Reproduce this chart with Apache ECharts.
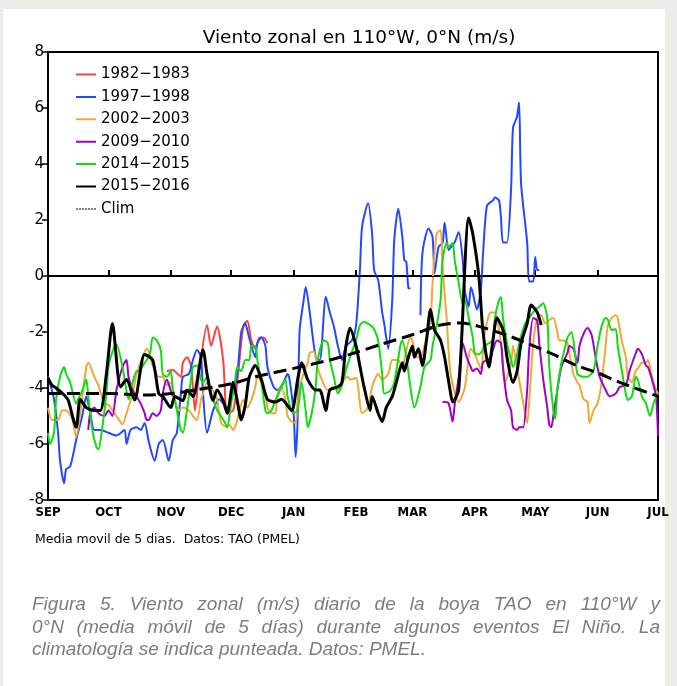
<!DOCTYPE html>
<html>
<head>
<meta charset="utf-8">
<script src="https://cdn.jsdelivr.net/npm/echarts@6/dist/echarts.min.js"></script>
<style>
  body { margin: 0; background: #ececE8; width: 677px; height: 686px; overflow: hidden; }
  #panel { position: absolute; left: 3px; top: 9px; width: 662px; height: 677px; background: #fff; }
  #chart { position: absolute; left: 0; top: 0; width: 677px; height: 686px; }
  .cap { position: absolute; left: 32px; width: 628px; font-family: "Liberation Sans", Arial, sans-serif;
         font-style: italic; font-size: 19px; color: #7d7d7d; line-height: 22.5px; white-space: nowrap; }
  .just { text-align: justify; text-align-last: justify; white-space: normal; }
</style>
</head>
<body>
<div id="panel"></div>
<div id="chart"></div>
<div class="cap just" style="top:593px">Figura 5. Viento zonal (m/s) diario de la boya TAO en 110°W y</div>
<div class="cap just" style="top:615.5px">0°N (media móvil de 5 días) durante algunos eventos El Niño. La</div>
<div class="cap" style="top:638px">climatología se indica punteada. Datos: PMEL.</div>
<script>
// eje x: dias desde el 1 de septiembre
const monthStarts = [0, 30, 61, 91, 122, 153, 181, 212, 242, 273, 303];
const monthNames = ['SEP', 'OCT', 'NOV', 'DEC', 'JAN', 'FEB', 'MAR', 'APR', 'MAY', 'JUN', 'JUL'];
const days = [];
for (let i = 0; i <= 303; i++) days.push(String(i));

// [dia, m/s]
const s1982 = [[59,-3.4],[62,-3.36],[63,-3.4],[66,-3.6],[67,-3.1],[69,-2.9],[71,-3.2],[72,-4.0],[73,-4.8],[75,-3.5],
  [79,-1.75],[81,-2.5],[83,-2.0],[84,-1.8],[87,-3.0],[89,-4.9],[92,-4.8],[94,-3.8],[97,-1.8],[99,-1.6],[101,-2.3],
  [103,-2.6],[105,-2.2],[107,-2.2],[109,-2.4]];

const s1997 = [[0,-3.6],[3,-4.4],[5,-5.6],[6,-6.6],[8,-7.4],[9,-6.9],[11,-6.8],[13,-6.2],[14,-5.86],[17,-5.0],[19,-4.3],
  [21,-4.9],[23,-5.5],[26,-5.5],[30,-5.6],[34,-5.7],[38,-5.5],[39,-6.0],[41,-5.5],[44,-5.4],[46,-5.5],[48,-5.25],
  [50,-5.9],[53,-6.6],[55,-6.0],[57,-5.86],[60,-6.6],[62,-5.86],[64,-5.6],[66,-4.2],[67,-3.6],[70,-3.5],[72,-3.0],
  [74,-2.64],[76,-2.9],[77,-4.2],[79,-5.6],[82,-4.8],[85,-4.4],[89,-4.7],[91,-4.4],[94,-3.5],[96,-2.0],[98,-1.7],
  [99,-1.93],[101,-2.5],[103,-2.9],[104,-2.4],[106,-2.2],[108,-2.5],[109,-3.25],[112,-3.96],[114,-4.07],[117,-3.8],
  [119,-3.5],[120,-3.7],[122,-4.9],[123,-6.46],[124,-5.14],[125,-1.93],[127,-0.86],[128,-0.39],[130,-1.3],[133,-2.9],
  [135,-3.0],[138,-0.74],[140,-1.3],[142,-1.8],[144,-2.5],[146,-3.0],[148,-2.5],[151,-2.3],[153,-1.8],[155,0.3],
  [156,1.75],[159,2.6],[161,1.5],[162,0.2],[164,-0.14],[166,-1.3],[167,-1.7],[169,-2.6],[171,-0.86],[172,1.3],
  [174,2.4],[176,1.4],[177,0.57],[178,0.5],[179,-0.43],[180,-0.45],[182,null],[185,-1.4],[186,0.82],[189,1.7],
  [191,1.4],[192,0.1],[194,1.04],[196,1.18],[197,1.9],[199,0.93],[201,1.1],[202,1.2],[204,1.57],[206,0.57],[207,-0.5],
  [209,-1.1],[210,-0.4],[211,-0.6],[213,-1.2],[215,-0.5],[216,0.68],[218,2.5],[221,2.7],[222,2.8],[224,2.7],[225,2.1],
  [226,1.2],[228,1.2],[230,3.07],[231,5.3],[233,5.7],[234,6.2],[235,3.3],[238,1.2],[239,-0.2],[241,-0.2],[242,0.68],
  [243,0.21],[244,0.21]];

const s2002 = [[0,-4.7],[2,-5.14],[5,-5.14],[7,-4.8],[9,-4.8],[12,-5.1],[14,-5.75],[16,-4.9],[19,-3.25],[20,-3.1],
  [23,-3.6],[25,-3.9],[28,-4.55],[30,-4.6],[33,-4.9],[35,-5.1],[37,-5.3],[39,-4.9],[42,-4.2],[44,-3.5],[47,-2.9],
  [49,-2.6],[50,-2.7],[52,-3.2],[55,-3.6],[57,-3.6],[59,-3.9],[61,-3.8],[63,-4.4],[65,-4.8],[67,-4.7],[70,-4.8],
  [72,-5.0],[74,-5.14],[76,-4.4],[77,-4.2],[79,-3.8],[82,-4.1],[84,-4.4],[86,-5.25],[89,-5.4],[90,-5.3],[92,-5.5],
  [94,-5.14],[97,-4.43],[99,-4.7],[101,-4.43],[103,-3.96],[104,-3.6],[106,-3.8],[108,-4.2],[109,-4.7],[111,-4.9],
  [113,-4.9],[114,-4.2],[116,-3.96],[118,-4.43],[119,-5.0],[121,-5.2],[123,-5.25],[124,-4.43],[126,-3.7],[129,-3.1],
  [130,-2.75],[132,-2.7],[134,-3.3],[136,-3.7],[139,-4.07],[142,-3.96],[144,-4.07],[147,-3.7],[149,-3.6],[150,-3.7],
  [153,-3.64],[156,-4.9],[159,-4.7],[161,-3.96],[164,-3.5],[166,-3.7],[169,-3.5],[171,-3.0],[174,-3.0],[176,-3.3],
  [177,-3.0],[180,-2.2],[181,-2.3],[183,-2.9],[185,-2.9],[187,-2.5],[190,-1.57],[191,-0.25],[193,1.5],[195,1.64],
  [196,0.3],[198,-1.5],[200,-3.5],[204,-4.5],[207,-4.0],[210,-2.6],[212,-2.8],[215,-3.3],[217,-2.0],[220,-1.3],
  [222,-1.3],[225,-2.4],[227,-3.8],[230,-3.1],[231,-2.5],[233,-3.3],[236,-4.5],[238,-5.25],[239,-4.5],[241,-2.4],
  [243,-1.5],[245,-1.4],[247,-1.7],[249,-1.57],[251,-1.5],[253,-2.0],[254,-2.3],[256,-2.3],[258,-2.4],[259,-2.75],
  [261,-3.5],[263,-3.8],[264,-3.9],[266,-4.4],[268,-4.5],[269,-5.25],[271,-4.8],[273,-4.55],[275,-3.8],[277,-2.5],
  [278,-1.8],[280,-1.5],[282,-1.4],[283,-1.5],[285,-2.3],[287,-2.9],[288,-3.6],[290,-3.8],[292,-3.36],[293,-3.3],
  [295,-3.1],[297,-3.1],[298,-3.0],[300,-3.6],[302,-4.07],[303,-4.2]];

const s2009 = [[20,-5.5],[21,-4.9],[23,-4.7],[25,-4.9],[28,-5.0],[30,-4.8],[32,-5.0],[34,-4.07],[37,-3.25],[39,-3.0],
  [40,-3.6],[42,-4.07],[44,-4.3],[46,-4.55],[48,-4.9],[49,-5.14],[50,-5.14],[52,-4.9],[54,-5.0],[56,-4.8],[57,-4.2],
  [59,-3.7],[61,-4.1],[62,-4.3],[100,null],[196,-4.5],[197,-4.5],[199,-4.55],[201,-5.2],[202,-4.6],[204,-3.6],
  [206,-2.4],[208,-2.9],[210,-3.25],[211,-3.4],[213,-3.3],[215,-3.5],[216,-3.1],[218,-3.0],[220,-2.9],[221,-2.64],
  [223,-2.3],[225,-2.4],[226,-3.25],[228,-4.43],[230,-4.8],[231,-5.4],[233,-5.5],[234,-5.4],[236,-5.4],[238,-4.07],
  [239,-2.64],[241,-1.5],[243,-1.6],[244,-2.4],[246,-3.7],[248,-4.7],[249,-5.3],[250,-5.4],[251,-5.0],[253,-4.07],
  [255,-3.25],[258,-2.75],[259,-2.5],[261,-2.6],[263,-3.1],[264,-2.5],[266,-2.07],[268,-1.86],[270,-2.1],[272,-2.9],
  [274,-3.6],[277,-4.07],[279,-4.3],[282,-4.2],[284,-3.96],[287,-3.9],[289,-3.36],[292,-2.75],[293,-2.6],[295,-2.8],
  [297,-3.2],[298,-3.25],[300,-3.7],[302,-4.3],[303,-5.7]];

const s2014 = [[0,-5.6],[1,-6.0],[3,-5.6],[4,-4.43],[6,-3.6],[8,-3.25],[9,-3.5],[11,-3.8],[14,-4.55],[15,-4.4],
  [17,-4.1],[19,-3.7],[20,-4.3],[22,-5.5],[24,-6.1],[25,-6.2],[27,-5.4],[29,-4.2],[30,-3.25],[33,-2.5],[34,-2.45],
  [37,-3.25],[39,-4.1],[40,-4.4],[42,-3.8],[44,-3.4],[45,-3.4],[48,-3.1],[50,-2.9],[51,-2.64],[52,-2.2],[54,-2.3],
  [56,-2.64],[57,-3.5],[59,-3.6],[61,-3.4],[62,-4.07],[64,-4.8],[66,-5.5],[67,-5.6],[69,-4.8],[71,-3.7],[72,-3.25],
  [74,-3.2],[76,-3.7],[77,-3.8],[79,-3.6],[80,-3.9],[82,-4.4],[84,-4.8],[85,-4.9],[88,-5.25],[89,-5.4],[91,-4.55],
  [93,-3.7],[94,-3.25],[96,-3.4],[98,-3.0],[100,-3.0],[101,-2.5],[103,-2.5],[104,-3.0],[106,-3.8],[108,-4.8],
  [109,-4.9],[111,-4.8],[113,-4.43],[114,-4.3],[116,-3.96],[118,-3.7],[119,-4.3],[122,-4.9],[124,-4.8],[126,-3.8],
  [128,-4.8],[129,-5.4],[131,-4.9],[133,-3.96],[134,-3.0],[137,-2.3],[139,-2.4],[140,-3.0],[142,-3.6],[144,-4.2],
  [146,-3.9],[148,-3.36],[150,-2.9],[153,-2.3],[155,-1.75],[157,-1.64],[160,-1.75],[162,-1.9],[164,-2.3],[166,-3.5],
  [167,-4.2],[170,-4.1],[172,-3.8],[175,-2.5],[176,-2.3],[178,-2.9],[180,-3.96],[182,-4.7],[185,-3.96],[187,-3.25],
  [190,-3.0],[191,-2.5],[193,-1.8],[195,-0.86],[196,0.57],[198,1.18],[199,1.04],[201,1.18],[202,0.57],[204,-0.25],
  [206,-1.0],[207,-0.86],[209,-1.5],[211,-2.2],[212,-2.75],[214,-2.8],[216,-2.64],[217,-2.5],[219,-2.4],[221,-2.3],
  [222,-1.5],[224,-0.86],[225,-0.75],[226,-1.5],[228,-2.4],[230,-3.0],[231,-3.25],[233,-2.8],[234,-2.4],[237,-1.7],
  [239,-1.5],[242,-1.2],[244,-1.1],[246,-0.97],[248,-1.5],[249,-3.25],[251,-4.8],[252,-5.1],[253,-4.07],[255,-3.1],
  [257,-2.5],[258,-2.2],[260,-2.0],[262,-2.9],[263,-3.5],[266,-3.6],[268,-3.6],[271,-3.36],[273,-2.5],[275,-1.8],
  [277,-1.5],[278,-1.55],[280,-1.93],[282,-1.9],[283,-2.5],[285,-3.36],[287,-4.2],[288,-4.43],[290,-4.3],[292,-3.6],
  [293,-3.7],[295,-4.3],[297,-4.55],[299,-5.0],[301,-4.5],[303,-4.2]];

const s2015 = [[0,-3.64],[2,-3.9],[4,-4.0],[8,-4.25],[10,-4.43],[14,-5.4],[16,-4.4],[19,-4.7],[23,-4.8],[26,-4.8],
  [29,-3.5],[32,-1.7],[36,-3.96],[39,-3.7],[43,-4.43],[48,-2.8],[52,-3.0],[55,-4.2],[57,-4.3],[61,-4.7],[63,-4.3],
  [67,-4.45],[69,-4.07],[72,-4.3],[77,-2.64],[79,-3.5],[82,-4.45],[84,-4.07],[87,-4.45],[89,-4.9],[92,-3.8],[94,-4.45],
  [96,-5.14],[98,-4.6],[100,-3.6],[103,-3.2],[106,-3.7],[109,-4.4],[113,-4.5],[116,-4.4],[121,-4.8],[124,-3.7],
  [126,-3.1],[129,-3.7],[133,-4.07],[135,-4.07],[138,-4.8],[140,-4.07],[144,-3.96],[146,-3.8],[148,-2.5],[150,-1.87],
  [153,-2.5],[155,-3.25],[157,-3.96],[160,-4.8],[161,-4.3],[164,-4.9],[166,-5.2],[168,-4.7],[171,-4.3],[173,-3.8],
  [176,-3.1],[177,-3.4],[179,-2.9],[181,-2.5],[182,-2.9],[184,-2.6],[186,-3.2],[188,-2.3],[190,-1.2],[192,-1.93],
  [195,-2.3],[197,-2.9],[200,-4.2],[201,-4.5],[204,-4.07],[209,2.07],[211,1.5],[214,0],[216,-1.93],[219,-3.25],
  [221,-2.3],[223,-1.5],[226,-1.93],[228,-2.9],[231,-3.8],[233,-3.4],[235,-2.4],[238,-1.7],[240,-1.04],[243,-1.3],
  [245,-1.75]];

const clim = [[0,-4.2],[30,-4.2],[48,-4.25],[61,-4.2],[75,-4.05],[91,-3.85],[103,-3.6],[122,-3.3],[140,-3.0],[150,-2.8],
  [165,-2.45],[181,-2.1],[195,-1.75],[205,-1.68],[214,-1.8],[230,-2.17],[251,-2.8],[262,-3.18],[273,-3.46],
  [284,-3.8],[290,-3.96],[303,-4.3]];

const isMonth = (idx) => monthStarts.indexOf(idx) >= 0;

// iconos de leyenda: linea fina centrada (los puntitos de las esquinas fijan la caja)
const lineIcon = 'path://M0,0h0.01v0.01h-0.01zM0,6h20v2h-20zM0,13.99h0.01v0.01h-0.01z';
const dashIcon = 'path://M0,0h0.01v0.01h-0.01zM0,6.5h2v1h-2zM3,6.5h2v1h-2zM6,6.5h2v1h-2zM9,6.5h2v1h-2zM12,6.5h2v1h-2zM15,6.5h2v1h-2zM18,6.5h2v1h-2zM0,13.99h0.01v0.01h-0.01z';

const mk = (name, data, color, width, z) => ({
  name: name, type: 'line', data: data, symbol: 'none', smooth: 0.25, connectNulls: false,
  lineStyle: { color: color, width: width }, itemStyle: { color: color }, z: z
});

const chart = echarts.init(document.getElementById('chart'));
const option = {
  animation: false,
  title: {
    text: 'Viento zonal en 110°W, 0°N (m/s)', left: 354, top: 24, textAlign: 'center',
    textStyle: { fontFamily: 'DejaVu Sans', fontSize: 18.5, fontWeight: 'normal', color: '#000' }
  },
  legend: {
    orient: 'vertical', left: 71, top: 62, itemWidth: 20, itemHeight: 14, itemGap: 7.4, icon: lineIcon,
    textStyle: { fontFamily: 'DejaVu Sans', fontSize: 15, color: '#000' },
    data: ['1982−1983', '1997−1998', '2002−2003', '2009−2010', '2014−2015', '2015−2016',
      { name: 'Clim', icon: dashIcon }]
  },
  grid: { left: 48, right: 19, top: 52, bottom: 186, show: true, borderColor: '#000', borderWidth: 2 },
  xAxis: {
    type: 'category', data: days, boundaryGap: false,
    axisLine: { lineStyle: { color: '#000', width: 2 } },
    axisTick: { inside: true, length: 6, interval: (i) => isMonth(i), lineStyle: { color: '#000', width: 2 } },
    axisLabel: {
      interval: (i) => isMonth(i), formatter: (v) => monthNames[monthStarts.indexOf(Number(v))],
      fontFamily: '"Liberation Sans Narrow", "DejaVu Sans Condensed", sans-serif', fontWeight: 'bold',
      fontSize: 13, color: '#000', margin: 6
    },
    splitLine: { show: false }
  },
  yAxis: {
    type: 'value', min: -8, max: 8, interval: 2,
    axisLine: { show: true, lineStyle: { color: '#000', width: 2 } },
    axisTick: { show: true, length: 6, lineStyle: { color: '#000', width: 1.5 } },
    axisLabel: { fontFamily: 'DejaVu Sans', fontSize: 15, color: '#000', margin: 4 },
    splitLine: { show: false }
  },
  graphic: [{
    type: 'text', left: 35, top: 533,
    style: { text: 'Media movil de 5 dias.  Datos: TAO (PMEL)', font: '12.5px "DejaVu Sans"', fill: '#000' }
  }],
  series: [
    mk('1982−1983', s1982, '#ff4040', 2, 2),
    mk('1997−1998', s1997, '#2448ff', 2, 3),
    mk('2002−2003', s2002, '#eeaa33', 2, 4),
    mk('2009−2010', s2009, '#9d00c8', 2, 5),
    mk('2014−2015', s2014, '#10dd10', 2, 6),
    mk('2015−2016', s2015, '#000000', 3, 7),
    {
      name: 'Clim', type: 'line', data: clim, symbol: 'none', smooth: 0.3, z: 8,
      lineStyle: { color: '#000', width: 3, type: [13, 6] }, itemStyle: { color: '#000' },
      markLine: {
        silent: true, symbol: 'none', label: { show: false },
        lineStyle: { color: '#000', width: 1, type: 'solid' }, data: [{ yAxis: 0 }]
      }
    }
  ]
};
chart.setOption(option);
</script>
</body>
</html>
